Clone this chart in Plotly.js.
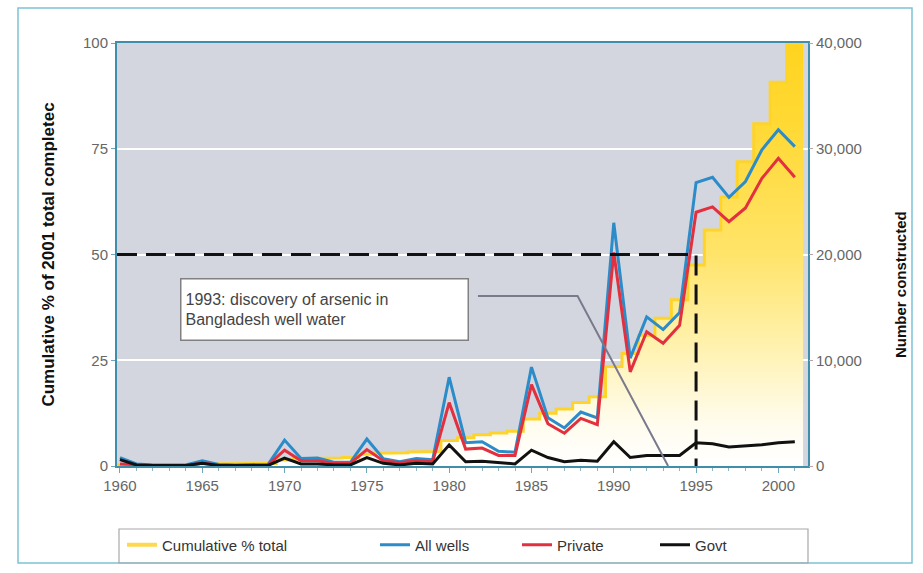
<!DOCTYPE html>
<html>
<head>
<meta charset="utf-8">
<script src="https://cdn.plot.ly/plotly-3.0.1.min.js"></script>
<style>html,body{margin:0;padding:0;background:#fff;}#chart{width:923px;height:573px;}</style>
</head>
<body>
<div id="chart"></div>
<script>
// ---- data ----
const years = [1960,1961,1962,1963,1964,1965,1966,1967,1968,1969,
               1970,1971,1972,1973,1974,1975,1976,1977,1978,1979,
               1980,1981,1982,1983,1984,1985,1986,1987,1988,1989,
               1990,1991,1992,1993,1994,1995,1996,1997,1998,1999,
               2000,2001];
// Cumulative % of 2001 total completed (left axis)
const cumulativePct = [0.2,0.2,0.3,0.3,0.3,0.5,0.5,0.5,0.6,0.6,
                       1.4,1.6,1.8,1.9,2.0,2.8,3.0,3.1,3.3,3.4,
                       6.0,6.7,7.4,7.8,8.2,11.1,12.5,13.5,15.0,16.4,
                       23.5,26.6,30.9,34.9,39.3,47.5,55.8,63.6,71.9,80.9,
                       90.7,100];
// Number constructed (right axis)
const allWells = [800,200,100,100,100,500,150,100,100,150,
                  2450,700,750,350,350,2550,700,400,700,600,
                  8400,2200,2300,1400,1300,9350,4550,3600,5100,4550,
                  23000,10200,14100,12900,14500,26800,27300,25400,26900,29900,
                  31800,30200];
const privateWells = [200,100,50,50,50,250,100,50,50,100,
                      1500,500,500,250,250,1550,500,300,500,400,
                      6000,1600,1700,1000,1000,7700,4000,3100,4500,3900,
                      20200,8900,12700,11600,13300,24000,24500,23100,24400,27200,
                      29100,27300];
const govtWells = [600,100,50,50,50,250,50,50,50,50,
                   750,200,200,100,100,800,250,100,250,200,
                   2000,400,450,300,200,1500,800,400,550,450,
                   2300,800,1000,1000,1000,2200,2100,1800,1900,2000,
                   2200,2300];
const seriesNames = ['Cumulative % total','All wells','Private','Govt'];
const leftTicks = [0,25,50,75,100];
const rightTicks = [0,10000,20000,30000,40000];
const xTickYears = [1960,1965,1970,1975,1980,1985,1990,1995,2000];
const leftTitle = 'Cumulative % of 2001 total completec';
const rightTitle = 'Number constructed';
// annotation content
const noteText = '1993: discovery of arsenic in<br>Bangladesh well water';
const discoveryYear = 1993;
const halfYear = 1995;   // year cumulative total passes 50%
const halfPct = 50;

// ---- build step outline for cumulative bars ----
const stepX = [], stepY = [];
years.forEach((yr, i) => {
  stepX.push(yr - 0.5, yr + 0.5);
  stepY.push(cumulativePct[i], cumulativePct[i]);
});

const FONT = 'Liberation Sans, Arial, sans-serif';
const gold = '#FFD42A';
const blue = '#2B8CC9';
const red = '#E2303F';
const black = '#111111';

const traces = [
  {
    x: stepX, y: stepY, type: 'scatter', mode: 'lines',
    line: {color: gold, width: 3},
    fill: 'tozeroy',
    fillcolor: 'rgba(255,220,60,0.6)',
    fillgradient: {type: 'vertical',
      colorscale: [[0,'#FFFFFF'],[0.1,'#FFFCEE'],[0.28,'#FFF2B0'],[0.5,'#FFE46A'],[0.8,'#FFD935'],[1,'#FFD41F']]},
    xaxis: 'x', yaxis: 'y', showlegend: false, hoverinfo: 'skip'
  },
  {x: years, y: allWells, type: 'scatter', mode: 'lines', name: seriesNames[1],
   line: {color: blue, width: 3}, yaxis: 'y2', legend: 'legend2'},
  {x: years, y: privateWells, type: 'scatter', mode: 'lines', name: seriesNames[2],
   line: {color: red, width: 3}, yaxis: 'y2', legend: 'legend3'},
  {x: years, y: govtWells, type: 'scatter', mode: 'lines', name: seriesNames[3],
   line: {color: black, width: 3}, yaxis: 'y2', legend: 'legend4'},
  // legend entry for the cumulative series (line swatch as in the reference)
  {x: [null], y: [null], type: 'scatter', mode: 'lines', name: seriesNames[0],
   line: {color: '#FFD84D', width: 4}, yaxis: 'y', legend: 'legend'}
];

// pixel helpers for decoration placement (paper coords)
const L = 117, R = 808, T = 43, B = 466;
const px = v => (v - L) / (R - L);
const py = v => (B - v) / (B - T);

const legendCommon = {orientation: 'h', yanchor: 'middle', xanchor: 'left', y: py(545),
  bgcolor: 'rgba(0,0,0,0)', borderwidth: 0, font: {family: FONT, size: 15, color: '#333'}, itemwidth: 30};

const layout = {
  width: 923, height: 573,
  margin: {l: L, r: 923 - R, t: T, b: 573 - B, pad: 0},
  paper_bgcolor: '#FFFFFF',
  plot_bgcolor: '#D3D6DE',
  font: {family: FONT, size: 15, color: '#555'},
  showlegend: true,
  legend: Object.assign({}, legendCommon, {x: px(122)}),
  legend2: Object.assign({}, legendCommon, {x: px(375)}),
  legend3: Object.assign({}, legendCommon, {x: px(517)}),
  legend4: Object.assign({}, legendCommon, {x: px(655)}),
  xaxis: {
    range: [1959.82, 2001.8], tickvals: xTickYears, ticktext: xTickYears.map(String),
    ticks: 'outside', ticklen: 5, tickcolor: '#6FA6BB', tickwidth: 1,
    minor: {dtick: 1, tick0: 1960, ticks: 'outside', ticklen: 3, tickcolor: '#8DB5C5', showgrid: false},
    showgrid: false, zeroline: false,
    showline: true, linecolor: '#3F8EAC', linewidth: 2, mirror: true,
    tickfont: {family: FONT, size: 15, color: '#666'}
  },
  yaxis: {
    range: [0, 100], tickvals: leftTicks, ticks: 'outside', ticklen: 4, tickcolor: '#6FA6BB',
    showgrid: true, gridcolor: '#FFFFFF', gridwidth: 2, zeroline: false,
    showline: true, linecolor: '#3F8EAC', linewidth: 2, mirror: true,
    tickfont: {family: FONT, size: 15, color: '#666'},
    title: {text: leftTitle, standoff: 24,
            font: {family: FONT, size: 17, color: '#111', weight: 'bold'}}
  },
  yaxis2: {
    overlaying: 'y', side: 'right', range: [0, 40000], tickvals: rightTicks,
    tickformat: ',d', ticks: 'outside', ticklen: 4, tickcolor: '#C9A0A0',
    showgrid: false, zeroline: false, showline: false,
    tickfont: {family: FONT, size: 15, color: '#666'}
  },
  shapes: [
    // outer frame
    {type: 'rect', xref: 'paper', yref: 'paper', x0: px(18), x1: px(912), y0: py(563), y1: py(8),
     line: {color: '#7CC4D6', width: 1.5}, layer: 'above'},
    // legend box
    {type: 'rect', xref: 'paper', yref: 'paper', x0: px(119), x1: px(808), y0: py(563), y1: py(529),
     line: {color: '#A8A8A8', width: 1.2}, layer: 'above'},
    // 50% guide
    {type: 'path', xref: 'x', yref: 'y', layer: 'above',
     path: `M 1959.82,${halfPct} L ${halfYear},${halfPct} L ${halfYear},0`,
     line: {color: '#111', width: 3, dash: '20px,9px'}},
    // leader from note to 1993
    {type: 'path', xref: 'x', yref: 'y', layer: 'above',
     path: `M 1981.75,40.2 L 1987.8,40.2 L ${discoveryYear + 0.3},0`,
     line: {color: '#7A7A8C', width: 2}}
  ],
  annotations: [
    {xref: 'paper', yref: 'paper', x: px(180), y: py(278), xanchor: 'left', yanchor: 'top',
     text: noteText, showarrow: false, align: 'left',
     width: 278, height: 52, bgcolor: '#FFFFFF', bordercolor: '#808080', borderwidth: 1.5, borderpad: 4,
     font: {family: FONT, size: 16, color: '#444'}},
    // right axis title
    {xref: 'paper', yref: 'paper', x: px(900), y: py(285), xanchor: 'center', yanchor: 'middle',
     text: '<b>' + rightTitle + '</b>', textangle: -90, showarrow: false,
     font: {family: FONT, size: 15, color: '#111'}}
  ]
};

Plotly.newPlot('chart', traces, layout, {staticPlot: true, displayModeBar: false});
</script>
</body>
</html>
